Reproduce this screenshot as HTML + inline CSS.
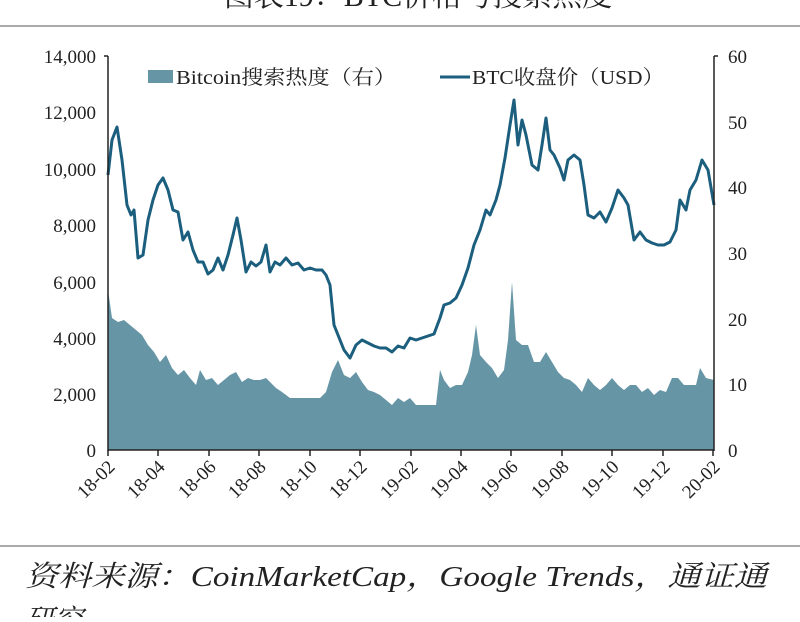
<!DOCTYPE html>
<html><head><meta charset="utf-8"><style>
body{margin:0;background:#fff;width:800px;height:617px;overflow:hidden}
</style></head><body>
<svg width="800" height="617" xmlns="http://www.w3.org/2000/svg" font-family="'Liberation Serif','Noto Serif CJK SC',serif">
<text x="418" y="6" font-size="30" text-anchor="middle" fill="#222">图表19：BTC价格与搜索热度</text>
<line x1="0" y1="26" x2="800" y2="26" stroke="#aaa" stroke-width="2"/>
<polygon fill="#6696a6" points="108,450 108,290 112,318 118,322 124,320 130,325 136,330 142,335 148,345 154,352 160,362 166,355 172,368 178,375 184,370 190,378 196,385 200,370 206,380 212,378 218,385 224,380 230,375 236,372 242,382 248,378 254,380 260,380 266,378 270,382 276,388 282,392 290,398 300,398 310,398 320,398 326,392 332,372 338,360 344,375 350,378 356,372 362,382 368,390 374,392 380,395 386,400 392,405 398,398 404,402 410,398 416,405 422,405 428,405 436,405 440,370 444,380 450,388 456,385 462,385 468,372 472,355 476,325 480,355 486,362 492,368 498,378 504,370 508,340 512,282 516,340 522,345 528,345 534,362 540,362 546,352 552,362 558,372 564,378 570,380 576,385 582,392 588,378 594,385 600,390 606,385 612,378 618,385 624,390 630,385 636,385 642,392 648,388 654,395 660,390 666,392 672,378 678,378 684,385 690,385 696,385 700,368 706,378 714,380 714,450"/>
<polyline fill="none" stroke="#1b5e7e" stroke-width="3" stroke-linejoin="round" points="108,175 112,140 117,127 122,160 127,205 131,215 134,210 138,258 143,255 148,220 153,200 158,185 163,178 168,190 173,210 178,212 183,240 188,232 193,250 198,262 203,262 208,274 213,270 218,258 223,270 228,255 233,235 237,218 241,240 246,272 251,262 256,266 261,262 266,245 270,272 275,262 280,265 286,258 292,265 298,263 304,270 310,268 316,270 322,270 326,275 330,285 334,325 338,335 344,350 350,358 356,345 362,340 368,343 374,346 380,348 386,348 392,352 398,346 404,348 410,338 416,340 422,338 428,336 434,334 440,318 444,305 450,303 456,298 462,285 468,268 474,245 480,230 486,210 490,215 496,200 500,185 505,158 510,125 514,100 518,145 522,120 526,135 532,165 538,170 542,145 546,118 550,150 554,155 560,168 564,180 568,160 574,155 580,160 584,185 588,215 594,218 600,212 606,222 612,208 618,190 624,198 628,205 634,240 640,232 646,240 652,243 658,245 664,245 670,242 676,230 680,200 686,210 690,190 696,180 702,160 708,170 714,205"/>
<g stroke="#222" stroke-width="1.5" fill="none">
<line x1="108" y1="56" x2="108" y2="451"/><line x1="714" y1="56" x2="714" y2="451"/>
<line x1="108" y1="450" x2="714" y2="450"/>
<line x1="104" y1="56" x2="108" y2="56"/><line x1="714" y1="56" x2="718" y2="56"/>
</g>
<g font-size="19" fill="#222" text-anchor="end">
<text x="96" y="63">14,000</text><text x="96" y="119">12,000</text><text x="96" y="176">10,000</text><text x="96" y="232">8,000</text><text x="96" y="289">6,000</text><text x="96" y="345">4,000</text><text x="96" y="401">2,000</text><text x="96" y="457">0</text>
</g>
<g font-size="19" fill="#222">
<text x="728" y="63">60</text><text x="728" y="129">50</text><text x="728" y="194">40</text><text x="728" y="260">30</text><text x="728" y="326">20</text><text x="728" y="391">10</text><text x="728" y="457">0</text>
</g>
<g stroke="#222" stroke-width="1.5">
<line x1="108" y1="450" x2="108" y2="456"/><line x1="158" y1="450" x2="158" y2="456"/><line x1="209" y1="450" x2="209" y2="456"/><line x1="259" y1="450" x2="259" y2="456"/><line x1="310" y1="450" x2="310" y2="456"/><line x1="360" y1="450" x2="360" y2="456"/><line x1="411" y1="450" x2="411" y2="456"/><line x1="461" y1="450" x2="461" y2="456"/><line x1="511" y1="450" x2="511" y2="456"/><line x1="562" y1="450" x2="562" y2="456"/><line x1="612" y1="450" x2="612" y2="456"/><line x1="663" y1="450" x2="663" y2="456"/><line x1="713" y1="450" x2="713" y2="456"/>
</g>
<g font-size="19" fill="#222" text-anchor="end">
<text transform="translate(116,468) rotate(-45)">18-02</text>
<text transform="translate(166,468) rotate(-45)">18-04</text>
<text transform="translate(217,468) rotate(-45)">18-06</text>
<text transform="translate(267,468) rotate(-45)">18-08</text>
<text transform="translate(318,468) rotate(-45)">18-10</text>
<text transform="translate(368,468) rotate(-45)">18-12</text>
<text transform="translate(419,468) rotate(-45)">19-02</text>
<text transform="translate(469,468) rotate(-45)">19-04</text>
<text transform="translate(519,468) rotate(-45)">19-06</text>
<text transform="translate(570,468) rotate(-45)">19-08</text>
<text transform="translate(620,468) rotate(-45)">19-10</text>
<text transform="translate(671,468) rotate(-45)">19-12</text>
<text transform="translate(721,468) rotate(-45)">20-02</text>
</g>
<rect x="148" y="70" width="25" height="13" fill="#6696a6"/>
<text x="176" y="84" font-size="20" fill="#222" textLength="220" lengthAdjust="spacingAndGlyphs">Bitcoin搜索热度（右）</text>
<line x1="440" y1="77" x2="470" y2="77" stroke="#1b5e7e" stroke-width="3"/>
<text x="472" y="84" font-size="20" fill="#222" textLength="192" lengthAdjust="spacingAndGlyphs">BTC收盘价（USD）</text>
<line x1="0" y1="546" x2="800" y2="546" stroke="#aaa" stroke-width="2"/>
<text x="25" y="586" font-size="29" font-style="italic" fill="#222" textLength="742" lengthAdjust="spacingAndGlyphs">资料来源：CoinMarketCap，Google Trends，通证通</text>
<text x="25" y="630" font-size="29" font-style="italic" fill="#222">研究</text>
</svg>
</body></html>
